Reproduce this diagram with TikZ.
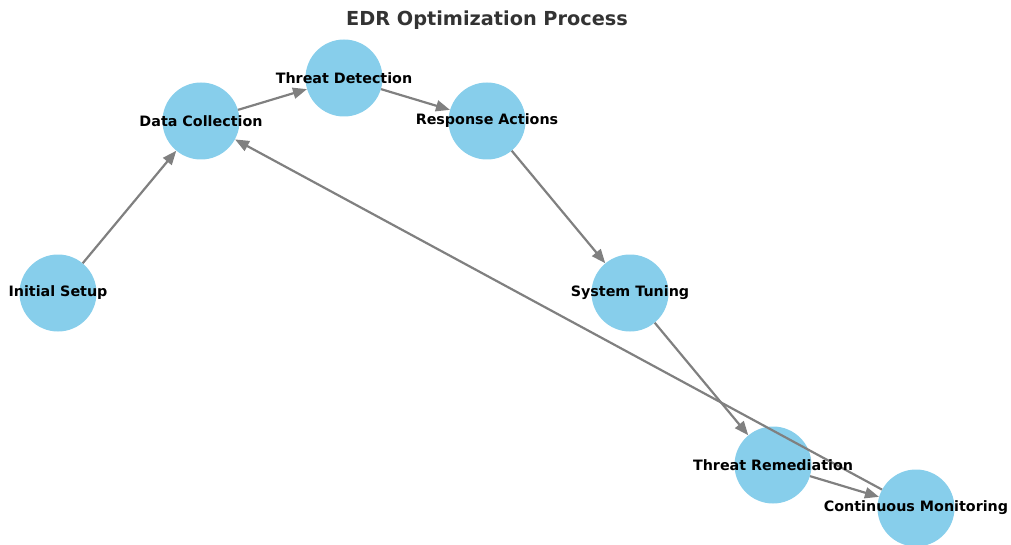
\documentclass[tikz,border=0pt]{standalone}
\usepackage{fontspec}
\setmainfont{DejaVu Sans}
\usetikzlibrary{arrows.meta}
\definecolor{nodeblue}{HTML}{87CEEB}
\definecolor{edgegray}{HTML}{808080}
\definecolor{titlegray}{HTML}{333333}
\begin{document}
\begin{tikzpicture}[x=1pt,y=-1pt,
  proc/.style={circle,fill=nodeblue,minimum size=77pt,inner sep=0pt},
  lbl/.style={font=\fontsize{14.3}{16}\selectfont\bfseries,text=black,inner sep=0pt},
  edge/.style={draw=edgegray,line width=2.2pt,-{Stealth[length=14pt,width=11pt,inset=0pt]}}]
\useasboundingbox (0,0) rectangle (1011,545);
\clip (0,0) rectangle (1011,545);
\node[font=\fontsize{19.3}{22}\selectfont\bfseries,text=titlegray] (title) at (487,20) {EDR Optimization Process};
\node[proc] (a) at (58,293) {};
\node[proc] (b) at (201,121) {};
\node[proc] (c) at (344,78) {};
\node[proc] (d) at (487,121) {};
\node[proc] (e) at (630,293) {};
\node[proc] (f) at (773,465) {};
\node[proc] (g) at (916,508) {};
\draw[edge] (a) -- (b);
\draw[edge] (b) -- (c);
\draw[edge] (c) -- (d);
\draw[edge] (d) -- (e);
\draw[edge] (e) -- (f);
\draw[edge] (f) -- (g);
\draw[edge] (g) -- (b);
\node[lbl] at (a) {Initial Setup};
\node[lbl] at (b) {Data Collection};
\node[lbl] at (c) {Threat Detection};
\node[lbl] at (d) {Response Actions};
\node[lbl] at (e) {System Tuning};
\node[lbl] at (f) {Threat Remediation};
\node[lbl] at (g) {Continuous Monitoring};
\end{tikzpicture}
\end{document}
